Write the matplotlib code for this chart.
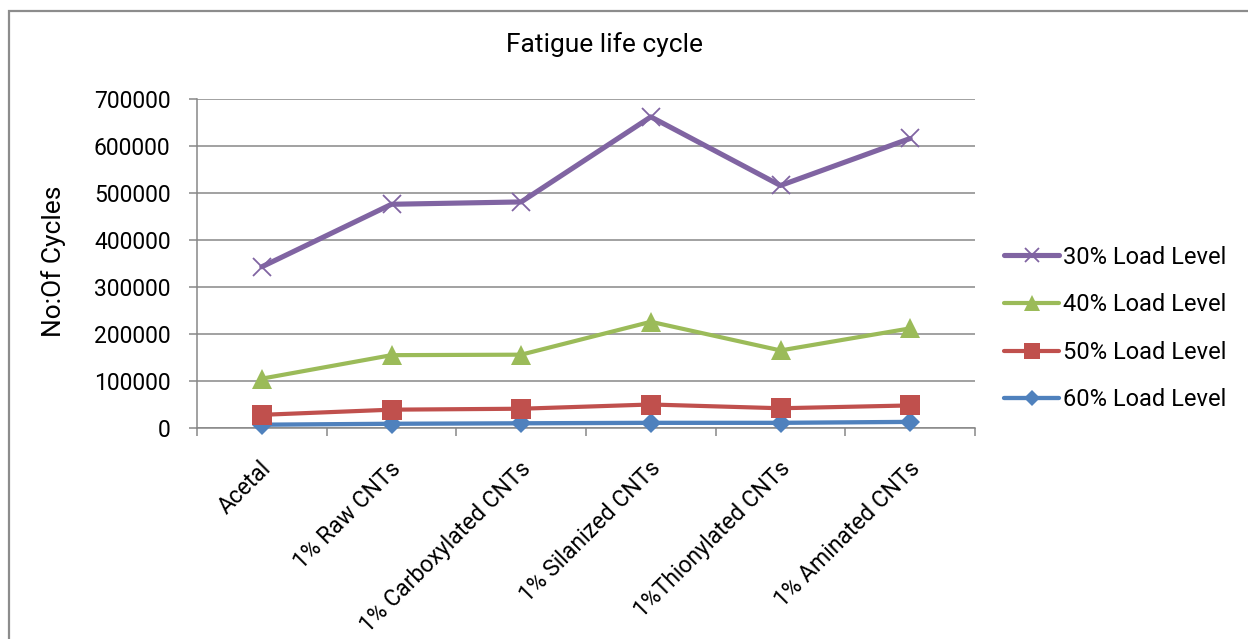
import matplotlib
matplotlib.use("Agg")
import matplotlib.pyplot as plt
from matplotlib.patches import Rectangle
from matplotlib.transforms import ScaledTranslation
from matplotlib.ticker import FuncFormatter, FixedLocator

plt.rcParams['font.family'] = ['Roboto', 'DejaVu Sans']

# ---- data -------------------------------------------------------------
categories = ["Acetal", "1% Raw CNTs", "1% Carboxylated CNTs",
              "1% Silanized CNTs", "1%Thionylated CNTs", "1% Aminated CNTs"]
load_30 = [343000, 476000, 481000, 662000, 516000, 616000]
load_40 = [105000, 155000, 156000, 226000, 165000, 212000]
load_50 = [28000, 39000, 41000, 50000, 42000, 48000]
load_60 = [7000, 9000, 10000, 11000, 11000, 13000]
series_labels = ["30% Load Level", "40% Load Level", "50% Load Level", "60% Load Level"]
y_ticks = [0, 100000, 200000, 300000, 400000, 500000, 600000, 700000]
title = "Fatigue life cycle"
y_label = "No:Of Cycles"

# ---- figure -----------------------------------------------------------
W, H = 1248, 639
fig = plt.figure(figsize=(W / 100, H / 100), dpi=100)
ax = fig.add_axes([197 / W, 1 - 428 / H, 778 / W, 329 / H])

GRID = '#878787'
styles = {
    "30% Load Level": dict(color='#8064A2', marker='x', ms=13, mew=1.3, lw=3.7),
    "40% Load Level": dict(color='#9BBB59', marker='^', ms=15, mew=0, lw=3.0),
    "50% Load Level": dict(color='#C0504D', marker='s', ms=14, mew=0, lw=3.0),
    "60% Load Level": dict(color='#4F81BD', marker='D', ms=10, mew=0, lw=3.1),
}
values = dict(zip(series_labels, [load_30, load_40, load_50, load_60]))

x = list(range(len(categories)))
handles = {}
for i, name in enumerate(reversed(series_labels)):
    st = styles[name]
    (ln,) = ax.plot(x, values[name], color=st['color'], lw=st['lw'],
                    marker=st['marker'], ms=st['ms'], mew=st['mew'],
                    mfc=st['color'], mec=st['color'],
                    solid_joinstyle='round', solid_capstyle='round',
                    label=name, zorder=3 + i, clip_on=False)
    handles[name] = ln

ax.set_xlim(-0.5, len(categories) - 0.5)
ax.set_ylim(0, 700000)
ax.set_yticks(y_ticks)
ax.yaxis.set_major_formatter(FuncFormatter(lambda v, p: f"{int(v)}"))

ax.grid(axis='y', color=GRID, lw=1.1)
ax.set_axisbelow(True)
for s in ('top', 'right'):
    ax.spines[s].set_visible(False)
for s in ('left', 'bottom'):
    ax.spines[s].set_color(GRID)
    ax.spines[s].set_linewidth(1.1)

ax.tick_params(axis='y', length=6, width=1.1, color=GRID, pad=13,
               labelsize=16.5, labelcolor='black')

# category boundaries carry the tick marks, the labels sit at the centres
ax.xaxis.set_minor_locator(FixedLocator([i - 0.5 for i in range(len(categories) + 1)]))
ax.tick_params(axis='x', which='minor', length=5.5, width=1.1, color=GRID)
ax.set_xticks(x)
ax.set_xticklabels(categories)
ax.tick_params(axis='x', which='major', length=0, pad=0, labelsize=16.5, labelcolor='black')
offset = ScaledTranslation(-2 / 100, -29 / 100, fig.dpi_scale_trans)
for lab in ax.get_xticklabels():
    lab.set_rotation(45)
    lab.set_rotation_mode('anchor')
    lab.set_ha('right')
    lab.set_va('top')
    lab.set_transform(lab.get_transform() + offset)

ax.set_ylabel(y_label, fontsize=19)
ax.yaxis.set_label_coords((66 - 197) / 778, (428 - 261) / 329)

fig.text(605 / W, 1 - 45 / H, title, ha='center', va='center', fontsize=19)

fs = 17
em = fs * 100 / 72
fig.legend([handles[n] for n in series_labels], series_labels,
           loc='center left', bbox_to_anchor=(1004 / W, 1 - 328.5 / H),
           frameon=False, fontsize=fs, handlelength=55 / em,
           handletextpad=4 / em, labelspacing=1.04, borderpad=0,
           borderaxespad=0, markerscale=0.8)

# chart frame (runs past the right and bottom edges of the canvas)
fig.add_artist(Rectangle((9 / W, -0.1), 1.2, 1.1 - 11 / H,
                         transform=fig.transFigure, fill=False,
                         edgecolor='#8c8c8c', lw=1.6))

fig.savefig("out.png", dpi=100)
